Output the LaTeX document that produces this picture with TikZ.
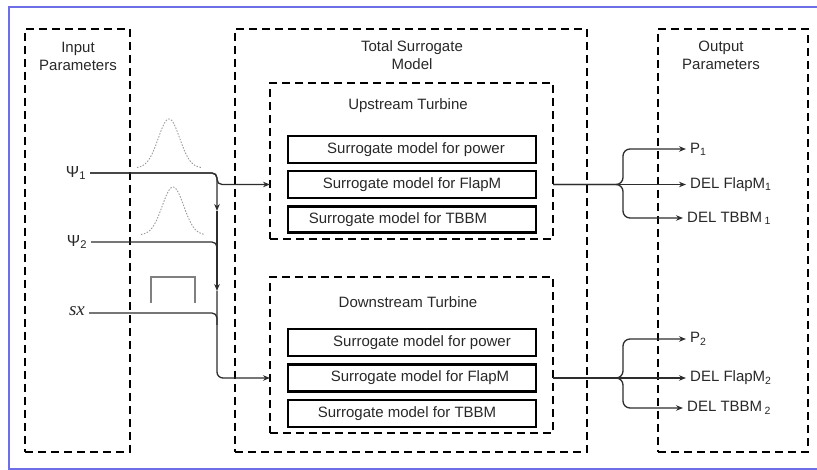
\documentclass[tikz,border=0pt]{standalone}
\usepackage{fontspec}
\setmainfont{Liberation Sans}
\newfontfamily\mathlikefont{Liberation Serif}
\usetikzlibrary{arrows.meta,calc}
\definecolor{frameblue}{RGB}{110,110,230}
\definecolor{ink}{RGB}{40,40,40}
\definecolor{wire}{RGB}{45,45,45}
\begin{document}
\begin{tikzpicture}[x=1pt,y=-1pt,
  dbox/.style={draw=black, line width=2.8pt, dash pattern=on 8pt off 5pt, inner sep=0pt, outer sep=0pt},
  sbox/.style={draw=black, line width=2.5pt, minimum width=248pt, minimum height=27pt, inner sep=0pt, font=\fontsize{15}{18}\selectfont, text=ink},
  lbl/.style={font=\fontsize{15}{18}\selectfont, text=ink, align=center},
  conn/.style={draw=wire, line width=1.3pt},
  arr/.style={conn, -{Stealth[length=7pt,width=5.5pt]}},
  gauss/.style={draw=gray!80, line width=0.9pt, dash pattern=on 1.5pt off 1.5pt},
  pulse/.style={draw=gray, line width=1.5pt},
]
\useasboundingbox (0,0) rectangle (817,470);
\draw[frameblue, line width=1.5pt] (817,7) -- (9,7) -- (9,469) -- (817,469);

% dashed containers
\node[dbox, minimum width=105pt, minimum height=423pt] (inp) at (77.5,240.5) {};
\node[dbox, minimum width=352pt, minimum height=423pt] (tot) at (411,240.5) {};
\node[dbox, minimum width=150pt, minimum height=423pt] (outp) at (733,240.5) {};
\node[dbox, minimum width=283pt, minimum height=156pt] (up) at (411.5,161) {};
\node[dbox, minimum width=283pt, minimum height=156pt] (dn) at (411.5,355) {};

% titles
\node[lbl] (tin) at (78,56) {Input\\Parameters};
\node[lbl] (ttot) at (412,55) {Total Surrogate\\Model};
\node[lbl] (tout) at (721,55) {Output\\Parameters};
\node[lbl] (tup) at (408,106) {Upstream Turbine};
\node[lbl] (tdn) at (408,302) {Downstream Turbine};

% surrogate boxes
\node[sbox] (u1) at (412,149.5) {\hspace*{8pt}Surrogate model for power};
\node[sbox] (u2) at (412,184.5) {Surrogate model for FlapM};
\node[sbox, minimum height=26pt] (u3) at (412,219.5) {Surrogate model for TBBM\hspace*{28pt}};
\node[sbox] (d1) at (412,342.5) {\hspace*{20pt}Surrogate model for power};
\node[sbox] (d2) at (412,378) {\hspace*{16pt}Surrogate model for FlapM};
\node[sbox] (d3) at (412,413.5) {Surrogate model for TBBM\hspace*{10pt}};

% inputs
\node[lbl, inner sep=4pt] (psi1) at (76,173) {\fontsize{16}{18}\selectfont Ψ\textsubscript{1}};
\node[lbl, inner sep=4pt] (psi2) at (77,242) {\fontsize{16}{18}\selectfont Ψ\textsubscript{2}};
\node[lbl, inner sep=4pt] (sx) at (77,311) {\mathlikefont\itshape\fontsize{19}{20}\selectfont sx};

% distributions
\draw[gauss] plot[domain=-32:32, samples=60, smooth] ({169+\x},{168-49*exp(-(\x*\x)/230)});
\draw[gauss] plot[domain=-32:32, samples=60, smooth] ({173+\x},{235-48*exp(-(\x*\x)/230)});
\draw[pulse] (151,303) -- (151,277) -- (195,277) -- (195,303);

% input wiring
\coordinate (a1) at (217,211);
\coordinate (a2) at (217,291);
\draw[arr, rounded corners=5] (psi1.east) -- (217,173) -- (217,184.5) -- (u2.west -| up.west);
\draw[arr, rounded corners=5] (psi1.east) -- (217,173) -- (a1);
\draw[arr] (a1) -- (a2);
\draw[arr, rounded corners=6] (a2) -- (217,378) -- (d2.west -| dn.west);
\draw[conn, rounded corners=5] (psi2.east) -- (217,242) -- (217,254);
\draw[conn, rounded corners=5] (sx.east |- 0,313) -- (217,313) -- (217,325);

% outputs
\node[lbl, anchor=west, inner sep=4pt] (p1) at (686,149) {P\textsubscript{1}};
\node[lbl, anchor=west, inner sep=4pt] (f1) at (686,184.5) {DEL FlapM\textsubscript{1}};
\node[lbl, anchor=west, inner sep=4pt] (t1) at (683,218) {DEL TBBM\,\textsubscript{1}};
\node[lbl, anchor=west, inner sep=4pt] (p2) at (686,339) {P\textsubscript{2}};
\node[lbl, anchor=west, inner sep=4pt] (f2) at (686,378) {DEL FlapM\textsubscript{2}};
\node[lbl, anchor=west, inner sep=4pt] (t2) at (683,408) {DEL TBBM\,\textsubscript{2}};

\coordinate (ub) at (623,184.5);
\coordinate (db) at (623,378);
\draw[arr, rounded corners=7] (u2.east -| up.east) -- (ub) |- (p1.west);
\draw[arr] (u2.east -| up.east) -- (f1.west);
\draw[arr, rounded corners=7] (u2.east -| up.east) -- (ub) |- (t1.west);
\draw[arr, rounded corners=7] (d2.east -| dn.east) -- (db) |- (p2.west);
\draw[arr] (d2.east -| dn.east) -- (f2.west);
\draw[arr, rounded corners=7] (d2.east -| dn.east) -- (db) |- (t2.west);
\end{tikzpicture}
\end{document}
